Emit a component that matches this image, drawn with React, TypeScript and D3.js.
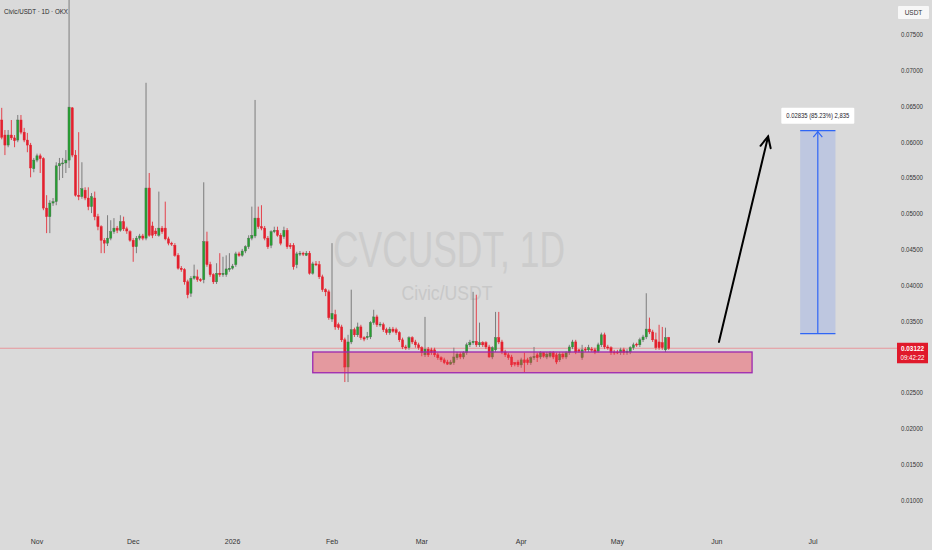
import React from "react";
import * as d3 from "d3";

// daily candles, first one on 21 Oct 2025
const startDay = new Date(2025, 9, 21);

const opens = [
  0.0631, 0.061, 0.0596, 0.061, 0.0606, 0.0603, 0.0631, 0.0614, 0.0603, 0.0596,
  0.0563, 0.0575, 0.0581, 0.0577, 0.0508, 0.0496, 0.0515, 0.0517, 0.0567, 0.057,
  0.0571, 0.0575, 0.0648, 0.0582, 0.0526, 0.0524, 0.0533, 0.0522, 0.051, 0.0522,
  0.0496, 0.0482, 0.0463, 0.0459, 0.0466, 0.0475, 0.048, 0.0477, 0.0489, 0.0479,
  0.0475, 0.0463, 0.0454, 0.0466, 0.0469, 0.0466, 0.0536, 0.0483, 0.0476, 0.047,
  0.048, 0.048, 0.0465, 0.0459, 0.0456, 0.0442, 0.0424, 0.0422, 0.0405, 0.0389,
  0.041, 0.0412, 0.0408, 0.0408, 0.0461, 0.0429, 0.0415, 0.0405, 0.0417, 0.0415,
  0.0415, 0.0422, 0.0424, 0.0429, 0.0444, 0.0442, 0.0448, 0.0454, 0.0466, 0.0469,
  0.0494, 0.0482, 0.048, 0.0466, 0.0456, 0.0475, 0.0477, 0.047, 0.0468, 0.0477,
  0.0456, 0.0456, 0.0429, 0.0444, 0.0445, 0.0442, 0.0445, 0.0417, 0.043, 0.0429,
  0.0412, 0.0394, 0.0391, 0.0353, 0.0359, 0.0345, 0.0342, 0.0324, 0.0286, 0.0321,
  0.0338, 0.0331, 0.0342, 0.0327, 0.0327, 0.0328, 0.0348, 0.0356, 0.0345, 0.0345,
  0.0338, 0.0334, 0.0339, 0.0338, 0.0334, 0.0324, 0.0314, 0.0313, 0.0327, 0.0321,
  0.0317, 0.0313, 0.0303, 0.0311, 0.031, 0.031, 0.0303, 0.0299, 0.0296, 0.0293,
  0.029, 0.0292, 0.0299, 0.0304, 0.03, 0.0306, 0.0317, 0.032, 0.0322, 0.0317,
  0.032, 0.032, 0.0314, 0.03, 0.031, 0.0327, 0.0321, 0.0307, 0.0303, 0.03,
  0.0292, 0.0293, 0.0289, 0.0296, 0.0296, 0.0292, 0.0299, 0.0303, 0.03, 0.0306,
  0.03, 0.0301, 0.0306, 0.0303, 0.0296, 0.0304, 0.03, 0.0306, 0.0314, 0.0321,
  0.031, 0.0299, 0.0311, 0.031, 0.0311, 0.031, 0.0308, 0.0317, 0.0331, 0.0314,
  0.0313, 0.0307, 0.0307, 0.0306, 0.031, 0.0306, 0.0307, 0.0313, 0.0318, 0.0317,
  0.0324, 0.0328, 0.0339, 0.0335, 0.0324, 0.0321, 0.032, 0.031, 0.0327,
];

const highs = [
  0.0648, 0.0617, 0.0617, 0.0631, 0.061, 0.0638, 0.0638, 0.062, 0.0613, 0.0599,
  0.0578, 0.0584, 0.0584, 0.0579, 0.0526, 0.0519, 0.0522, 0.0572, 0.0578, 0.0578,
  0.0589, 0.081, 0.0649, 0.0589, 0.0614, 0.0572, 0.0537, 0.0537, 0.0529, 0.0531,
  0.05, 0.0484, 0.0466, 0.0498, 0.0491, 0.0494, 0.0483, 0.0498, 0.0496, 0.0482,
  0.0477, 0.0466, 0.0469, 0.0472, 0.0472, 0.0683, 0.0557, 0.0489, 0.048, 0.0531,
  0.0483, 0.0517, 0.0468, 0.0461, 0.0459, 0.0445, 0.0427, 0.0424, 0.0408, 0.0413,
  0.0429, 0.0422, 0.041, 0.0544, 0.0475, 0.0433, 0.0417, 0.0431, 0.0445, 0.044,
  0.0442, 0.0445, 0.043, 0.0447, 0.0447, 0.0451, 0.0456, 0.047, 0.051, 0.0659,
  0.051, 0.0512, 0.0483, 0.0469, 0.0477, 0.0482, 0.0482, 0.0473, 0.0482, 0.048,
  0.0459, 0.0459, 0.0447, 0.0448, 0.0447, 0.0448, 0.0448, 0.0433, 0.0434, 0.0434,
  0.0415, 0.0396, 0.0394, 0.0459, 0.0366, 0.0348, 0.0345, 0.0327, 0.0331, 0.0394,
  0.0341, 0.0348, 0.0345, 0.0329, 0.0335, 0.035, 0.0366, 0.0359, 0.0349, 0.0348,
  0.0341, 0.0342, 0.0342, 0.0341, 0.0336, 0.0327, 0.0317, 0.0329, 0.0329, 0.0324,
  0.032, 0.0315, 0.0356, 0.0314, 0.0313, 0.0313, 0.0306, 0.0301, 0.0299, 0.0296,
  0.0296, 0.0313, 0.0307, 0.0307, 0.0308, 0.032, 0.0324, 0.0391, 0.0387, 0.0348,
  0.0322, 0.0322, 0.0317, 0.0315, 0.0363, 0.0363, 0.0324, 0.031, 0.0306, 0.0303,
  0.0293, 0.0296, 0.0299, 0.0306, 0.0299, 0.0301, 0.0314, 0.0306, 0.0308, 0.0307,
  0.0307, 0.0308, 0.0308, 0.0306, 0.0307, 0.0307, 0.0308, 0.0317, 0.0324, 0.0324,
  0.0311, 0.0317, 0.0314, 0.0317, 0.0314, 0.0313, 0.032, 0.0334, 0.0334, 0.0317,
  0.0315, 0.031, 0.031, 0.0313, 0.0313, 0.0311, 0.0315, 0.032, 0.032, 0.0327,
  0.0331, 0.0389, 0.0355, 0.0338, 0.0334, 0.0345, 0.0342, 0.0341, 0.0328,
];

const lows = [
  0.0604, 0.0582, 0.0593, 0.0603, 0.0593, 0.06, 0.0611, 0.06, 0.0586, 0.0551,
  0.0558, 0.0572, 0.0557, 0.0505, 0.0473, 0.0473, 0.0511, 0.0512, 0.0547, 0.055,
  0.0557, 0.0564, 0.0579, 0.0524, 0.0519, 0.0521, 0.0519, 0.0505, 0.0501, 0.0491,
  0.0477, 0.0445, 0.0445, 0.0455, 0.0463, 0.0472, 0.0473, 0.0475, 0.0476, 0.0472,
  0.0461, 0.0433, 0.0445, 0.0463, 0.0463, 0.0463, 0.0468, 0.0466, 0.0469, 0.0468,
  0.0472, 0.0463, 0.0456, 0.0455, 0.044, 0.0422, 0.0419, 0.0401, 0.0382, 0.0384,
  0.0408, 0.0405, 0.0405, 0.0403, 0.0426, 0.0412, 0.0402, 0.0402, 0.0412, 0.0412,
  0.0412, 0.0419, 0.0422, 0.0426, 0.044, 0.044, 0.0445, 0.0451, 0.0463, 0.0466,
  0.0479, 0.0477, 0.0463, 0.0451, 0.0452, 0.0473, 0.0468, 0.0456, 0.0465, 0.0451,
  0.0451, 0.0422, 0.0424, 0.0441, 0.0441, 0.0441, 0.0415, 0.0415, 0.0427, 0.0409,
  0.0391, 0.0385, 0.0352, 0.0349, 0.0338, 0.0338, 0.0321, 0.0265, 0.0265, 0.0318,
  0.0328, 0.0328, 0.0324, 0.0322, 0.0324, 0.0325, 0.0345, 0.0342, 0.0342, 0.0335,
  0.0331, 0.0331, 0.0334, 0.0331, 0.0321, 0.0311, 0.031, 0.031, 0.0318, 0.0313,
  0.031, 0.0301, 0.03, 0.03, 0.0303, 0.03, 0.0296, 0.0293, 0.029, 0.0289,
  0.0289, 0.0289, 0.0296, 0.0297, 0.0297, 0.0303, 0.0314, 0.0317, 0.0314, 0.0314,
  0.0314, 0.0311, 0.0299, 0.0297, 0.0307, 0.0318, 0.0304, 0.03, 0.0296, 0.0286,
  0.0287, 0.0286, 0.0285, 0.0279, 0.0289, 0.0289, 0.0296, 0.0293, 0.0297, 0.0299,
  0.0297, 0.0299, 0.0297, 0.029, 0.0293, 0.0297, 0.0297, 0.0303, 0.0311, 0.0304,
  0.0306, 0.0296, 0.0307, 0.0307, 0.0307, 0.0304, 0.0306, 0.0314, 0.0311, 0.031,
  0.0303, 0.0303, 0.0304, 0.0303, 0.0303, 0.0303, 0.0304, 0.031, 0.0314, 0.0314,
  0.0321, 0.0325, 0.0332, 0.0321, 0.031, 0.031, 0.031, 0.0307, 0.031,
];

const closes = [
  0.0607, 0.0596, 0.061, 0.0606, 0.0602, 0.0631, 0.0614, 0.0603, 0.0596, 0.0564,
  0.0575, 0.0581, 0.0577, 0.0508, 0.0496, 0.0515, 0.0517, 0.0567, 0.057, 0.0571,
  0.0575, 0.0649, 0.0582, 0.0526, 0.0524, 0.0535, 0.0522, 0.051, 0.0524, 0.0496,
  0.0482, 0.0463, 0.0459, 0.0466, 0.0475, 0.048, 0.0477, 0.0489, 0.0479, 0.0476,
  0.0463, 0.0454, 0.0466, 0.0469, 0.0466, 0.0536, 0.047, 0.047, 0.0472, 0.048,
  0.0475, 0.0465, 0.0459, 0.0458, 0.0442, 0.0424, 0.0422, 0.0405, 0.0387, 0.041,
  0.0413, 0.0408, 0.0407, 0.0461, 0.0429, 0.0415, 0.0405, 0.0417, 0.0415, 0.0417,
  0.0423, 0.0424, 0.0427, 0.0444, 0.0442, 0.0448, 0.0454, 0.0466, 0.047, 0.0494,
  0.0482, 0.048, 0.0466, 0.0454, 0.0475, 0.0477, 0.047, 0.0459, 0.0477, 0.0454,
  0.0454, 0.0426, 0.0444, 0.0445, 0.0444, 0.0445, 0.0417, 0.043, 0.0429, 0.0412,
  0.0394, 0.0391, 0.0355, 0.0361, 0.0342, 0.0341, 0.0324, 0.0286, 0.0321, 0.0338,
  0.0331, 0.0342, 0.0327, 0.0325, 0.0329, 0.0348, 0.0356, 0.0345, 0.0346, 0.0338,
  0.0334, 0.0339, 0.0336, 0.0334, 0.0324, 0.0314, 0.0313, 0.0327, 0.0321, 0.0317,
  0.0313, 0.0306, 0.0311, 0.0303, 0.0306, 0.0303, 0.0299, 0.0296, 0.0292, 0.029,
  0.0293, 0.03, 0.0304, 0.03, 0.0306, 0.0317, 0.032, 0.0322, 0.0317, 0.032,
  0.0317, 0.0314, 0.03, 0.0313, 0.0327, 0.0321, 0.0307, 0.0303, 0.0299, 0.0289,
  0.029, 0.0289, 0.0296, 0.0292, 0.0292, 0.0299, 0.0301, 0.0299, 0.0306, 0.0301,
  0.0304, 0.0306, 0.03, 0.0293, 0.0304, 0.03, 0.0306, 0.0314, 0.0321, 0.0307,
  0.0308, 0.031, 0.031, 0.0313, 0.031, 0.0307, 0.0317, 0.0331, 0.0314, 0.0313,
  0.0306, 0.0306, 0.0306, 0.031, 0.0306, 0.0308, 0.0313, 0.0317, 0.0317, 0.0324,
  0.0328, 0.0339, 0.0335, 0.0324, 0.0313, 0.0313, 0.0313, 0.0327, 0.03122,
];

const priceTicks = [
  0.01, 0.015, 0.02, 0.025, 0.03, 0.035, 0.04, 0.045, 0.05, 0.055, 0.06, 0.065,
  0.07, 0.075,
];
const timeTicks = [
  new Date(2025, 10, 1),
  new Date(2025, 11, 1),
  new Date(2026, 0, 1),
  new Date(2026, 1, 1),
  new Date(2026, 2, 1),
  new Date(2026, 3, 1),
  new Date(2026, 4, 1),
  new Date(2026, 5, 1),
  new Date(2026, 6, 1),
];
const timeLabels = ["Nov", "Dec", "2026", "Feb", "Mar", "Apr", "May", "Jun", "Jul"];

const lastPrice = 0.03122;
const countdown = "09:42:22";

// drawings
const zone = { from: new Date(2026, 0, 26), to: new Date(2026, 5, 12), low: 0.0278, high: 0.0307 };
const arrow = {
  from: new Date(2026, 5, 1, 16),
  fromPrice: 0.0321,
  to: new Date(2026, 5, 17),
  toPrice: 0.0608,
};
const measure = {
  from: new Date(2026, 5, 27),
  to: new Date(2026, 6, 8),
  base: 0.03326,
  target: 0.06161,
  label: "0.02835 (85.23%) 2,835",
};

const W = 932;
const H = 550;
const BG = "#dadada";
const UP = "#26a032";
const DOWN = "#e3202e";
const FONT = "'Liberation Sans', Arial, sans-serif";

const App = () => {
  const x = d3
    .scaleTime()
    .domain([new Date(2025, 10, 1), new Date(2026, 6, 1)])
    .range([37, 813]);
  const y = d3.scaleLinear().domain([0.01, 0.075]).range([500.2, 34.8]);

  const candles = closes.map((c, i) => ({
    date: d3.timeDay.offset(startDay, i),
    o: opens[i],
    h: highs[i],
    l: lows[i],
    c,
  }));
  const bodyW = 2.2;

  // arrow head
  const ax1 = x(arrow.from);
  const ay1 = y(arrow.fromPrice);
  const ax2 = x(arrow.to);
  const ay2 = y(arrow.toPrice);
  const ang = Math.atan2(ay2 - ay1, ax2 - ax1);
  const head = 12;
  const wing = (a: number) => [
    ax2 - head * Math.cos(ang + a),
    ay2 - head * Math.sin(ang + a),
  ];
  const w1 = wing(0.45);
  const w2 = wing(-0.45);

  const mx1 = x(measure.from);
  const mx2 = x(measure.to);
  const mxc = (mx1 + mx2) / 2;
  const myTop = y(measure.target);
  const myBot = y(measure.base);

  const py = y(lastPrice);

  return (
    <div style={{ width: W, height: H }}>
      <style>{`body{margin:0}`}</style>
      <svg width={W} height={H} style={{ display: "block", fontFamily: FONT }}>
        <rect width={W} height={H} fill={BG} />

        {/* watermark */}
        <text
          x={449}
          y={267}
          textAnchor="middle"
          fontSize={50}
          fill="#cccccc"
          textLength={232}
          lengthAdjust="spacingAndGlyphs"
        >
          CVCUSDT, 1D
        </text>
        <text
          x={447}
          y={300}
          textAnchor="middle"
          fontSize={21}
          fill="#c8c8c8"
          textLength={91}
          lengthAdjust="spacingAndGlyphs"
        >
          Civic/USDT
        </text>

        {/* current price line */}
        <line x1={0} x2={897} y1={py} y2={py} stroke="#ee7a83" strokeWidth={0.7} />

        {/* candles */}
        <g>
          {candles.map((d, i) => {
            const cx = x(d.date);
            const up = d.c >= d.o;
            const top = y(Math.max(d.o, d.c));
            const bot = y(Math.min(d.o, d.c));
            return (
              <g key={i}>
                <line
                  x1={cx}
                  x2={cx}
                  y1={y(d.h)}
                  y2={y(d.l)}
                  stroke={up ? "#7c7c7c" : "#e4424c"}
                  strokeWidth={1}
                />
                <rect
                  x={cx - bodyW / 2}
                  y={top}
                  width={bodyW}
                  height={Math.max(bot - top, 1)}
                  fill={up ? UP : DOWN}
                  stroke={up ? "#4d6b4f" : DOWN}
                  strokeWidth={0.4}
                />
              </g>
            );
          })}
        </g>

        {/* support zone */}
        <rect
          x={x(zone.from)}
          y={y(zone.high)}
          width={x(zone.to) - x(zone.from)}
          height={y(zone.low) - y(zone.high)}
          fill="#f23645"
          fillOpacity={0.4}
          stroke="#9c27b0"
          strokeWidth={1.3}
        />

        {/* arrow */}
        <g stroke="#000" strokeWidth={2} strokeLinecap="round" fill="none">
          <line x1={ax1} y1={ay1} x2={ax2} y2={ay2} />
          <polyline points={`${w1[0]},${w1[1]} ${ax2},${ay2} ${w2[0]},${w2[1]}`} />
        </g>

        {/* measure box */}
        <rect
          x={mx1}
          y={myTop}
          width={mx2 - mx1}
          height={myBot - myTop}
          fill="#2962ff"
          fillOpacity={0.16}
        />
        <g stroke="#2f66f5" strokeWidth={1.2} fill="none">
          <line x1={mx1} x2={mx2} y1={myTop} y2={myTop} />
          <line x1={mx1} x2={mx2} y1={myBot} y2={myBot} />
          <line x1={mxc} x2={mxc} y1={myBot} y2={myTop + 0.5} />
          <polyline points={`${mxc - 4.5},${myTop + 6.5} ${mxc},${myTop + 1} ${mxc + 4.5},${myTop + 6.5}`} />
        </g>
        <rect x={mxc - 36.5} y={myTop - 23} width={73} height={16} fill="#ffffff" rx={1} />
        <text
          x={mxc}
          y={myTop - 12.3}
          textAnchor="middle"
          fontSize={7.5}
          fill="#1e222d"
          textLength={63}
          lengthAdjust="spacingAndGlyphs"
        >
          {measure.label}
        </text>

        {/* title */}
        <text
          x={4}
          y={13.5}
          fontSize={8}
          fontWeight={500}
          fill="#2a2a2a"
          textLength={64}
          lengthAdjust="spacingAndGlyphs"
        >
          Civic/USDT · 1D · OKX
        </text>

        {/* price axis */}
        <rect x={898} y={6} width={31} height={13} fill="#f7f7f7" rx={1} />
        <text x={913.5} y={15} textAnchor="middle" fontSize={6.5} fill="#333">
          USDT
        </text>
        {priceTicks.map((t) => (
          <text
            key={t}
            x={912}
            y={y(t) + 2.4}
            textAnchor="middle"
            fontSize={7}
            fill="#333"
            textLength={22}
            lengthAdjust="spacingAndGlyphs"
          >
            {t.toFixed(5)}
          </text>
        ))}
        <rect x={897} y={py - 5.5} width={31} height={20.5} fill="#e0192b" />
        <text
          x={912.5}
          y={py + 2.3}
          textAnchor="middle"
          fontSize={7}
          fontWeight={600}
          fill="#fff"
          textLength={23}
          lengthAdjust="spacingAndGlyphs"
        >
          {lastPrice.toFixed(5)}
        </text>
        <text
          x={912.5}
          y={py + 11.3}
          textAnchor="middle"
          fontSize={7}
          fill="#fff"
          textLength={24}
          lengthAdjust="spacingAndGlyphs"
        >
          {countdown}
        </text>

        {/* time axis */}
        {timeTicks.map((t, i) => (
          <text
            key={i}
            x={x(t)}
            y={543.5}
            textAnchor="middle"
            fontSize={7}
            fill="#333"
          >
            {timeLabels[i]}
          </text>
        ))}
      </svg>
    </div>
  );
};

export default App;
